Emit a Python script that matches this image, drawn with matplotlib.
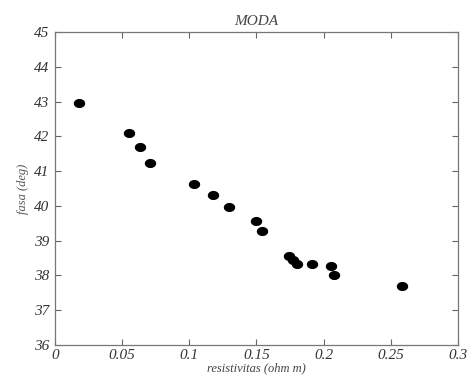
import numpy as np
import matplotlib
matplotlib.use("Agg")
import matplotlib.pyplot as plt
from matplotlib.path import Path

# resistivity (ohm m) vs phase (deg)
resistivitas = [0.018, 0.055, 0.063, 0.071, 0.1035, 0.1174, 0.1298, 0.1496,
                0.154, 0.1744, 0.177, 0.180, 0.1913, 0.2052, 0.208, 0.2586]
fasa = [42.95, 42.10, 41.68, 41.24, 40.63, 40.30, 39.98, 39.57,
        39.27, 38.56, 38.44, 38.33, 38.32, 38.26, 38.00, 37.69]

xticks = [0, 0.05, 0.1, 0.15, 0.2, 0.25, 0.3]
xticklabels = ["0", "0.05", "0.1", "0.15", "0.2", "0.25", "0.3"]
yticks = list(range(36, 46))

plt.rcParams["font.family"] = ["Liberation Serif", "DejaVu Serif"]

it = dict(fontstyle="italic")
# slightly wide dot, like the jpeg-stretched markers in the source
t = np.linspace(0, 2 * np.pi, 40)
dot = Path(np.column_stack([1.3 * np.cos(t), np.sin(t)]))

fig = plt.figure(figsize=(4.69, 3.78), dpi=100)
ax = fig.add_axes([0.1173, 0.0873, 0.8592, 0.828])
ax.plot(resistivitas, fasa, linestyle="none", marker=dot, markersize=7.2,
        color="black")

ax.set_xlim(0, 0.3); ax.set_ylim(36, 45)
ax.set_xticks(xticks); ax.set_xticklabels(xticklabels, **it)
ax.set_yticks(yticks); ax.set_yticklabels([str(v) for v in yticks], **it)
ax.tick_params(direction="in", top=True, right=True, length=4, width=0.8,
               color="#666666", labelsize=11, labelcolor="#333333")
ax.tick_params(axis="x", pad=3)
ax.tick_params(axis="y", pad=4)
for s in ax.spines.values():
    s.set_color("#777777"); s.set_linewidth(0.9)

ax.set_xlabel("resistivitas (ohm m)", fontsize=9, color="#444444", labelpad=0, **it)
ax.set_ylabel("fasa (deg)", fontsize=9, color="#555555", labelpad=4, **it)
ax.set_title("MODA", fontsize=11, color="#444444", pad=5, **it)

fig.savefig("out.png", dpi=100)
